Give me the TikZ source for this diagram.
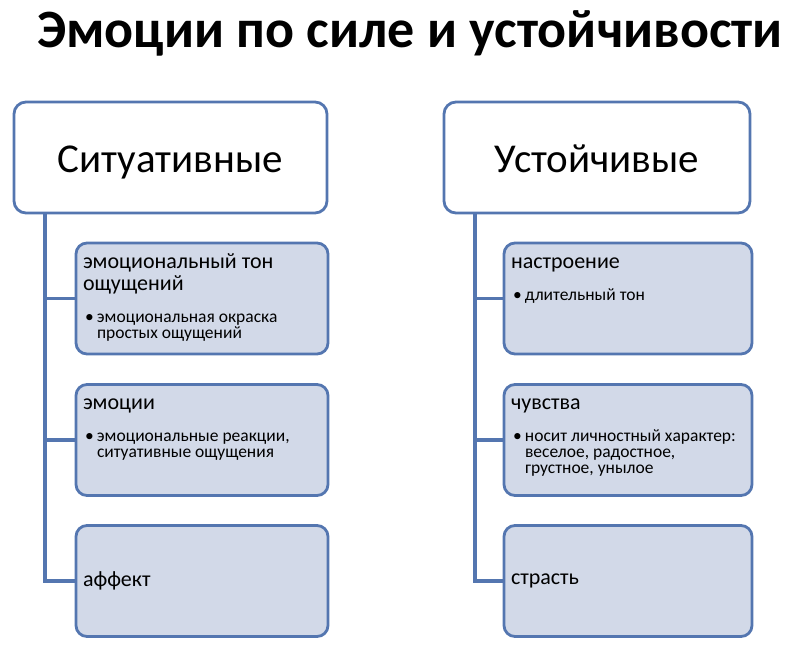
\documentclass[tikz,border=0pt]{standalone}
\usepackage{fontspec}
\setmainfont{Carlito}
\definecolor{linkblue}{RGB}{84,118,176}
\definecolor{kidfill}{RGB}{210,217,232}
\newcommand{\kidhead}{\fontsize{22}{22}\selectfont}
\newcommand{\kidbul}{\fontsize{17.5}{16}\selectfont}
\newcommand{\kidtext}[3]{\parbox[c][111pt][t]{#1}{\raggedright
  {\kidhead\rule{0pt}{25pt}#2\par}\vspace{16pt}%
  {\kidbul\hangindent=14pt\hangafter=1\noindent\makebox[14pt][l]{\hspace{2pt}\textbullet}#3\par}}}
\newcommand{\kidsolo}[2]{\parbox[c][111pt][c]{#1}{\raggedright\kidhead #2}}

\begin{document}
\begin{tikzpicture}[x=1pt, y=-1pt,
    head/.style={draw=linkblue, line width=2.8pt, rounded corners=12pt, fill=white,
      minimum height=111pt, inner sep=0pt, text height=31pt, text depth=2pt,
      font=\fontsize{41}{44}\selectfont},
    kid/.style={draw=linkblue, line width=2.8pt, rounded corners=11pt, fill=kidfill,
      inner xsep=7pt, inner ysep=0pt},
    link/.style={draw=linkblue, line width=3.2pt}]
    \useasboundingbox (0,0) rectangle (811,657);
    \node[font=\bfseries\fontsize{54}{60}\selectfont, anchor=base] (title) at (410,47) {Эмоции по силе и устойчивости};
    % left column
    \node[head, minimum width=313pt] (sit) at (170.5,157.5) {Ситуативные};
    \coordinate (sittrunk) at (45,213);
    \node[kid] (ton) at (202,298.5) {\kidtext{238pt}{эмоциональный тон\\ощущений}{эмоциональная окраска\newline простых ощущений}};
    \node[kid] (emo) at (202,440) {\kidtext{238pt}{эмоции}{эмоциональные реакции,\newline ситуативные ощущения}};
    \node[kid] (aff) at (202,581) {\kidsolo{238pt}{аффект}};
    \draw[link] (sit.south -| sittrunk) |- (ton.west);
    \draw[link] (sit.south -| sittrunk) |- (emo.west);
    \draw[link] (sit.south -| sittrunk) |- (aff.west);
    % right column
    \node[head, minimum width=306pt] (ust) at (597,157.5) {Устойчивые};
    \coordinate (usttrunk) at (475,213);
    \node[kid] (mood) at (628,298.5) {\kidtext{234pt}{настроение}{длительный тон}};
    \node[kid] (feel) at (628,440) {\kidtext{234pt}{чувства}{носит личностный характер:\newline веселое, радостное,\newline грустное, унылое}};
    \node[kid] (pass) at (628,581) {\kidsolo{234pt}{страсть}};
    \draw[link] (ust.south -| usttrunk) |- (mood.west);
    \draw[link] (ust.south -| usttrunk) |- (feel.west);
    \draw[link] (ust.south -| usttrunk) |- (pass.west);
\end{tikzpicture}
\end{document}
